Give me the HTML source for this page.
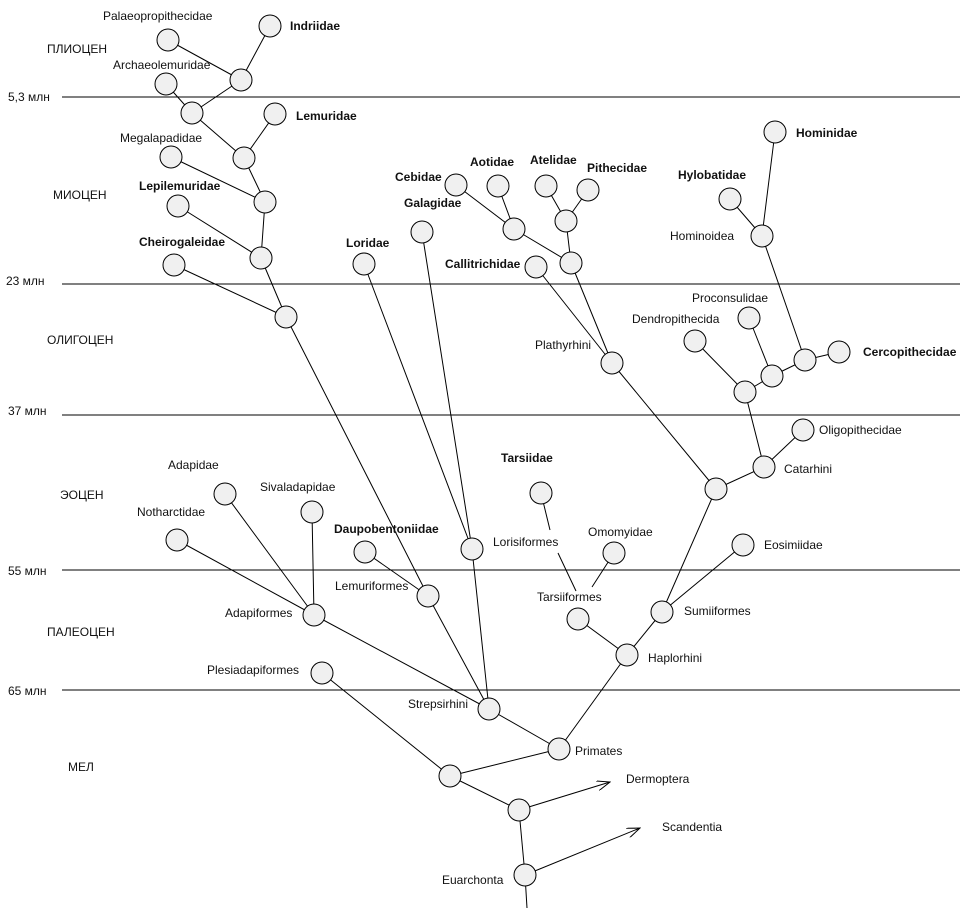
<!DOCTYPE html>
<html><head><meta charset="utf-8"><style>
body{margin:0;background:#fff}
svg{display:block}
text{font-family:"Liberation Sans",Arial,sans-serif;font-size:12px;fill:#111}
.b{font-weight:bold}
</style></head><body>
<svg width="968" height="908" viewBox="0 0 968 908" xmlns="http://www.w3.org/2000/svg">
<defs><marker id="ar" markerWidth="14" markerHeight="10" refX="13" refY="5" orient="auto" markerUnits="userSpaceOnUse"><path d="M0,0 L13,5 L0,10" fill="none" stroke="#000" stroke-width="1"/></marker></defs>
<g stroke="#000" stroke-width="1">
<line x1="62" y1="97" x2="960" y2="97"/>
<line x1="62" y1="284" x2="960" y2="284"/>
<line x1="62" y1="415" x2="960" y2="415"/>
<line x1="62" y1="570" x2="960" y2="570"/>
<line x1="62" y1="690" x2="960" y2="690"/>
</g>
<g fill="#111">
<text x="8" y="101">5,3 млн</text>
<text x="6" y="285">23 млн</text>
<text x="8" y="415">37 млн</text>
<text x="8" y="575">55 млн</text>
<text x="8" y="695">65 млн</text>
<text x="47" y="53">ПЛИОЦЕН</text>
<text x="53" y="199">МИОЦЕН</text>
<text x="47" y="344">ОЛИГОЦЕН</text>
<text x="60" y="499">ЭОЦЕН</text>
<text x="47" y="636">ПАЛЕОЦЕН</text>
<text x="68" y="771">МЕЛ</text>
</g>
<g stroke="#000" stroke-width="1" fill="none">
<path d="M168,40L241,80M270,26L241,80M241,80L192,113M166,84L192,113M192,113L244,158M275,114L244,158M244,158L265,202M171,157L265,202M265,202L261,258M178,206L261,258M261,258L286,317M174,265L286,317M286,317L428,596"/>
<path d="M364,264L472,549M422,232L472,549M472,549L489,709M365,552L428,596M428,596L489,709"/>
<path d="M225,494L314,615M312,512L314,615M177,540L314,615M314,615L489,709"/>
<path d="M456,185L514,229M498,186L514,229M514,229L571,263M546,186L566,221M588,190L566,221M566,221L571,263M571,263L612,363M536,267L612,363M612,363L716,489"/>
<path d="M775,132L762,236M730,199L762,236M762,236L805,360M839,352L805,360M805,360L772,376M749,318L772,376M772,376L745,392M695,341L745,392M745,392L764,467M803,430L764,467M764,467L716,489M716,489L662,612M743,545L662,612M662,612L627,655"/>
<path d="M541,493L550,530M558,553L576,591M614,553L592,587M578,619L627,655M627,655L559,749"/>
<path d="M489,709L559,749M559,749L450,776M322,673L450,776M450,776L519,810M519,810L525,875M525,875L527,908"/>
<line x1="519" y1="810" x2="610" y2="782" marker-end="url(#ar)"/>
<line x1="525" y1="875" x2="640" y2="828" marker-end="url(#ar)"/>
</g>
<g fill="#f0f0f0" stroke="#000" stroke-width="1">
<circle cx="168" cy="40" r="11"/><circle cx="270" cy="26" r="11"/><circle cx="241" cy="80" r="11"/><circle cx="166" cy="84" r="11"/><circle cx="192" cy="113" r="11"/><circle cx="275" cy="114" r="11"/><circle cx="171" cy="157" r="11"/><circle cx="244" cy="158" r="11"/><circle cx="178" cy="206" r="11"/><circle cx="265" cy="202" r="11"/><circle cx="174" cy="265" r="11"/><circle cx="261" cy="258" r="11"/><circle cx="286" cy="317" r="11"/>
<circle cx="364" cy="264" r="11"/><circle cx="422" cy="232" r="11"/><circle cx="472" cy="549" r="11"/><circle cx="365" cy="552" r="11"/><circle cx="428" cy="596" r="11"/>
<circle cx="225" cy="494" r="11"/><circle cx="312" cy="512" r="11"/><circle cx="177" cy="540" r="11"/><circle cx="314" cy="615" r="11"/><circle cx="322" cy="673" r="11"/>
<circle cx="456" cy="185" r="11"/><circle cx="498" cy="186" r="11"/><circle cx="546" cy="186" r="11"/><circle cx="588" cy="190" r="11"/><circle cx="514" cy="229" r="11"/><circle cx="566" cy="221" r="11"/><circle cx="571" cy="263" r="11"/><circle cx="536" cy="267" r="11"/><circle cx="612" cy="363" r="11"/>
<circle cx="775" cy="132" r="11"/><circle cx="730" cy="199" r="11"/><circle cx="762" cy="236" r="11"/><circle cx="749" cy="318" r="11"/><circle cx="695" cy="341" r="11"/><circle cx="805" cy="360" r="11"/><circle cx="839" cy="352" r="11"/><circle cx="772" cy="376" r="11"/><circle cx="745" cy="392" r="11"/><circle cx="803" cy="430" r="11"/><circle cx="764" cy="467" r="11"/><circle cx="716" cy="489" r="11"/>
<circle cx="541" cy="493" r="11"/><circle cx="614" cy="553" r="11"/><circle cx="743" cy="545" r="11"/><circle cx="578" cy="619" r="11"/><circle cx="662" cy="612" r="11"/><circle cx="627" cy="655" r="11"/>
<circle cx="489" cy="709" r="11"/><circle cx="559" cy="749" r="11"/><circle cx="450" cy="776" r="11"/><circle cx="519" cy="810" r="11"/><circle cx="525" cy="875" r="11"/>
</g>
<g>
<text x="103" y="20">Palaeopropithecidae</text>
<text class="b" x="290" y="30">Indriidae</text>
<text x="113" y="69">Archaeolemuridae</text>
<text class="b" x="296" y="120">Lemuridae</text>
<text x="120" y="142">Megalapadidae</text>
<text class="b" x="139" y="190">Lepilemuridae</text>
<text class="b" x="139" y="246">Cheirogaleidae</text>
<text class="b" x="346" y="247">Loridae</text>
<text class="b" x="404" y="207">Galagidae</text>
<text class="b" x="395" y="181">Cebidae</text>
<text class="b" x="470" y="166">Aotidae</text>
<text class="b" x="530" y="164">Atelidae</text>
<text class="b" x="587" y="172">Pithecidae</text>
<text class="b" x="445" y="268">Callitrichidae</text>
<text x="535" y="349">Plathyrhini</text>
<text class="b" x="796" y="137">Hominidae</text>
<text class="b" x="678" y="179">Hylobatidae</text>
<text x="670" y="240">Hominoidea</text>
<text x="692" y="302">Proconsulidae</text>
<text x="632" y="323">Dendropithecida</text>
<text class="b" x="863" y="356">Cercopithecidae</text>
<text x="819" y="434">Oligopithecidae</text>
<text x="784" y="473">Catarhini</text>
<text x="168" y="469">Adapidae</text>
<text x="260" y="491">Sivaladapidae</text>
<text x="137" y="516">Notharctidae</text>
<text class="b" x="334" y="533">Daupobentoniidae</text>
<text x="335" y="590">Lemuriformes</text>
<text x="225" y="617">Adapiformes</text>
<text x="207" y="674">Plesiadapiformes</text>
<text x="408" y="708">Strepsirhini</text>
<text class="b" x="501" y="462">Tarsiidae</text>
<text x="493" y="546">Lorisiformes</text>
<text x="588" y="536">Omomyidae</text>
<text x="537" y="601">Tarsiiformes</text>
<text x="764" y="549">Eosimiidae</text>
<text x="684" y="615">Sumiiformes</text>
<text x="648" y="662">Haplorhini</text>
<text x="575" y="755">Primates</text>
<text x="626" y="783">Dermoptera</text>
<text x="662" y="831">Scandentia</text>
<text x="442" y="884">Euarchonta</text>
</g>
</svg>
</body></html>
